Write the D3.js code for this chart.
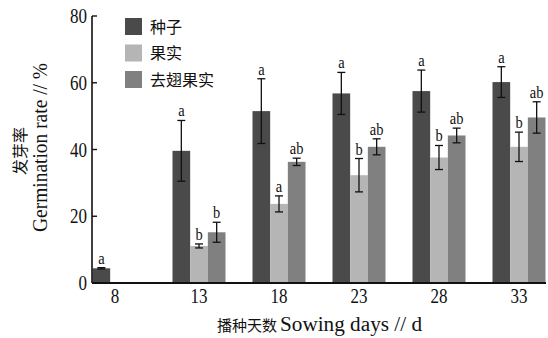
<!DOCTYPE html>
<html>
<head>
<meta charset="utf-8">
<script src="https://cdn.jsdelivr.net/npm/d3@7"></script>
<style>
  body { margin: 0; background: #fff; }
  text { font-family: "Liberation Serif", "DejaVu Serif", serif; fill: #111; }
  .cjk { font-family: "Noto Sans CJK SC", sans-serif; }
</style>
</head>
<body>
<svg id="chart" width="548" height="338"></svg>
<script>
// ─── data ───
const days = ['8', '13', '18', '23', '28', '33'];
const series = ['种子', '果实', '去翅果实'];
const seedMean = [4.4, 39.6, 51.5, 56.8, 57.5, 60.2];
const seedErr  = [0.2, 9.1, 9.7, 6.3, 6.3, 4.6];
const seedSig  = ['a', 'a', 'a', 'a', 'a', 'a'];
const fruitMean = [null, 11.1, 23.7, 32.3, 37.6, 40.8];
const fruitErr  = [null, 0.6, 2.4, 5.0, 3.6, 4.4];
const fruitSig  = [null, 'b', 'a', 'b', 'b', 'b'];
const wingMean = [null, 15.2, 36.3, 40.8, 44.2, 49.6];
const wingErr  = [null, 3.0, 1.1, 2.4, 2.2, 4.7];
const wingSig  = [null, 'b', 'ab', 'ab', 'ab', 'ab'];
const yTicks = [0, 20, 40, 60, 80];
const colors = ['#4a4a4a', '#b5b5b5', '#808080'];

const svg = d3.select('#chart');
const x0 = 92, x1 = 546, yTop = 16, yBot = 283;

const x = d3.scaleBand().domain(days).range([79, 559]);
const xs = d3.scaleBand().domain(series).range([13.5, 66.5]);
const y = d3.scaleLinear().domain([0, 80]).range([yBot, yTop]);

// condensed serif text, like the figure's typeface
function ctext(g, px, py, str, size, anchor) {
  return g.append('text')
    .attr('transform', `translate(${px},${py}) scale(0.85,1)`)
    .attr('text-anchor', anchor || 'middle')
    .attr('font-size', size)
    .text(str);
}

const rows = [];
days.forEach((d, i) => {
  [[seedMean, seedErr, seedSig], [fruitMean, fruitErr, fruitSig], [wingMean, wingErr, wingSig]]
    .forEach(([m, e, s], k) => {
      if (m[i] == null) return;
      rows.push({ day: d, s: series[k], k, v: m[i], e: e[i], sig: s[i] });
    });
});

// bars
svg.append('g').selectAll('rect').data(rows).enter().append('rect')
  .attr('x', d => x(d.day) + xs(d.s))
  .attr('width', xs.bandwidth())
  .attr('y', d => y(d.v))
  .attr('height', d => y(0) - y(d.v))
  .attr('fill', d => colors[d.k]);

// error bars
const eb = svg.append('g').attr('stroke', '#111').attr('stroke-width', 1.3);
rows.forEach(d => {
  const cx = x(d.day) + xs(d.s) + xs.bandwidth() / 2;
  eb.append('line').attr('x1', cx).attr('x2', cx).attr('y1', y(d.v + d.e)).attr('y2', y(d.v - d.e));
  [d.v + d.e, d.v - d.e].forEach(v => {
    eb.append('line').attr('x1', cx - 4).attr('x2', cx + 4).attr('y1', y(v)).attr('y2', y(v));
  });
});

// significance letters
const sg = svg.append('g');
rows.forEach(d => {
  ctext(sg, x(d.day) + xs(d.s) + xs.bandwidth() / 2, y(d.v + d.e) - 4, d.sig, 17);
});

// axes
svg.append('line').attr('x1', x0).attr('x2', x0).attr('y1', yTop).attr('y2', yBot)
  .attr('stroke', '#111').attr('stroke-width', 1.6);
svg.append('line').attr('x1', x0).attr('x2', x1).attr('y1', yBot).attr('y2', yBot)
  .attr('stroke', '#111').attr('stroke-width', 2);

const yAxis = svg.append('g');
yTicks.forEach(t => {
  yAxis.append('line').attr('x1', x0).attr('x2', x0 + 5).attr('y1', y(t)).attr('y2', y(t))
    .attr('stroke', '#111').attr('stroke-width', 1.4);
  ctext(yAxis, 87, y(t) + 7, t, 20, 'end');
});

const xAxis = svg.append('g');
days.forEach(d => {
  ctext(xAxis, x(d) + x.bandwidth() / 2 - (d === '8' ? 4 : 0), 303, d, 20);
});

// axis titles
svg.append('text').attr('class', 'cjk').attr('x', 217).attr('y', 331).attr('font-size', 15)
  .text('播种天数');
svg.append('text').attr('x', 280).attr('y', 331).attr('font-size', 20)
  .attr('textLength', 142).attr('lengthAdjust', 'spacingAndGlyphs')
  .text('Sowing days // d');

svg.append('text').attr('class', 'cjk').attr('font-size', 16)
  .attr('transform', 'translate(26,151) rotate(-90)').attr('text-anchor', 'middle')
  .text('发芽率');
svg.append('text').attr('font-size', 20)
  .attr('transform', 'translate(47,232) rotate(-90)')
  .attr('textLength', 169).attr('lengthAdjust', 'spacingAndGlyphs')
  .text('Germination rate // %');

// legend
const lg = svg.append('g');
series.forEach((s, i) => {
  lg.append('rect').attr('x', 125).attr('y', 18 + i * 26.5).attr('width', 17).attr('height', 17)
    .attr('fill', colors[i]);
  lg.append('text').attr('class', 'cjk').attr('x', 150).attr('y', 27 + i * 26.5).attr('dy', '0.35em')
    .attr('font-size', 16).text(s);
});
</script>
</body>
</html>
